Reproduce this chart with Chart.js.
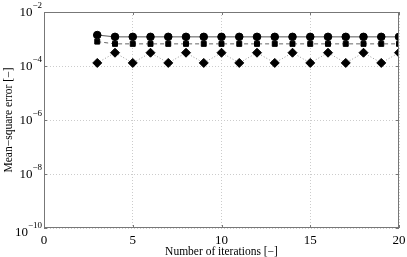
<!DOCTYPE html>
<html>
<head>
<meta charset="utf-8">
<script src="https://cdn.jsdelivr.net/npm/chart.js@4.4.1/dist/chart.umd.min.js"></script>
<style>
  html, body { margin: 0; padding: 0; background: #fff; }
  #wrap { width: 407px; height: 257px; }
</style>
</head>
<body>
<div id="wrap"><canvas id="c"></canvas></div>
<script>
var iterations = [3,4,5,6,7,8,9,10,11,12,13,14,15,16,17,18,19,20];
var circleErr = [1.4e-3,1.2e-3,1.2e-3,1.2e-3,1.2e-3,1.2e-3,1.2e-3,1.2e-3,1.2e-3,1.2e-3,1.2e-3,1.2e-3,1.2e-3,1.2e-3,1.2e-3,1.2e-3,1.2e-3,1.2e-3];
var squareErr = [8e-4,6.6e-4,6.6e-4,6.6e-4,6.6e-4,6.6e-4,6.6e-4,6.6e-4,6.6e-4,6.6e-4,6.6e-4,6.6e-4,6.6e-4,6.6e-4,6.6e-4,6.6e-4,6.6e-4,6.6e-4];
var diamondErr = [1.3e-4,3.1e-4,1.3e-4,3.1e-4,1.3e-4,3.1e-4,1.3e-4,3.1e-4,1.3e-4,3.1e-4,1.3e-4,3.1e-4,1.3e-4,3.1e-4,1.3e-4,3.1e-4,1.3e-4,3.1e-4];
var yTickExp = [-10,-8,-6,-4,-2];
var xTicks = [0,5,10,15,20];

var serif = "'Liberation Serif', 'DejaVu Serif', serif";

function pts(vals){
  return iterations.map(function(x, i){ return {x: x, y: vals[i]}; });
}

// draws box, inward ticks and 10^n labels
var decor = {
  id: 'decor',
  afterDraw: function(chart){
    var ctx = chart.ctx, a = chart.chartArea;
    var xs = chart.scales.x, ys = chart.scales.y;
    ctx.save();
    ctx.strokeStyle = '#777';
    ctx.lineWidth = 1;
    ctx.strokeRect(Math.round(a.left) + 0.5, Math.round(a.top) + 0.5,
                   Math.round(a.right - a.left) - 1, Math.round(a.bottom - a.top) - 1);
    ctx.beginPath();
    xs.ticks.forEach(function(t){
      var px = Math.round(xs.getPixelForValue(t.value)) + 0.5;
      ctx.moveTo(px, a.bottom); ctx.lineTo(px, a.bottom - 3);
      ctx.moveTo(px, a.top); ctx.lineTo(px, a.top + 3);
    });
    ys.ticks.forEach(function(t){
      var py = Math.round(ys.getPixelForValue(t.value)) + 0.5;
      ctx.moveTo(a.left, py); ctx.lineTo(a.left + 3, py);
      ctx.moveTo(a.right, py); ctx.lineTo(a.right - 3, py);
    });
    ctx.stroke();
    ctx.fillStyle = '#000';
    ctx.textBaseline = 'middle';
    yTickExp.forEach(function(e){
      var py = ys.getPixelForValue(Math.pow(10, e));
      if (e === -10) py += 4;
      var sup = '\u2212' + Math.abs(e);
      ctx.font = '9px ' + serif;
      var sw = ctx.measureText(sup).width;
      ctx.textAlign = 'left';
      var sx = a.left - 2 - sw;
      ctx.fillText(sup, sx, py - 6);
      ctx.font = '13px ' + serif;
      ctx.textAlign = 'right';
      ctx.fillText('10', sx, py + 1);
    });
    ctx.restore();
  }
};

new Chart(document.getElementById('c'), {
  type: 'line',
  data: {
    datasets: [{
      data: pts(circleErr),
      borderColor: '#555',
      borderWidth: 1,
      pointStyle: 'circle',
      pointRadius: 3.8,
      pointBackgroundColor: '#000',
      pointBorderColor: '#000'
    }, {
      data: pts(squareErr),
      borderColor: '#666',
      borderWidth: 1,
      borderDash: [4, 3],
      pointStyle: 'rect',
      pointRadius: 3.5,
      pointBackgroundColor: '#000',
      pointBorderColor: '#000'
    }, {
      data: pts(diamondErr),
      borderColor: '#999',
      borderWidth: 1,
      borderDash: [1, 2],
      pointStyle: 'rectRot',
      pointRadius: 4.5,
      pointBackgroundColor: '#000',
      pointBorderColor: '#000'
    }]
  },
  options: {
    responsive: true,
    maintainAspectRatio: false,
    animation: false,
    layout: { padding: { left: 0, right: 8, top: 12, bottom: -2 } },
    plugins: { legend: { display: false }, tooltip: { enabled: false } },
    scales: {
      x: {
        type: 'linear',
        min: 0, max: 20,
        afterBuildTicks: function(s){ s.ticks = xTicks.map(function(v){ return {value: v}; }); },
        afterFit: function(s){ s.height = 31; s.paddingRight = 0; s.paddingLeft = 0; },
        grid: { color: '#ccc', drawTicks: false },
        border: { display: false, dash: [1, 2] },
        ticks: { color: '#000', font: { family: serif, size: 13 }, padding: 5, maxRotation: 0 },
        title: { display: true, text: 'Number of iterations [\u2212]', color: '#000', font: { family: serif, size: 11.5 }, padding: 0 }
      },
      y: {
        type: 'logarithmic',
        min: 1e-10, max: 1e-2,
        afterBuildTicks: function(s){ s.ticks = yTickExp.map(function(e){ return {value: Math.pow(10, e)}; }); },
        afterFit: function(s){ s.width = 44; },
        grid: { color: '#ccc', drawTicks: false },
        border: { display: false, dash: [1, 2] },
        ticks: { display: false },
        title: { display: true, text: 'Mean\u2212square error [\u2212]', color: '#000', font: { family: serif, size: 11.5 }, padding: 2 }
      }
    }
  },
  plugins: [decor]
});
</script>
</body>
</html>
